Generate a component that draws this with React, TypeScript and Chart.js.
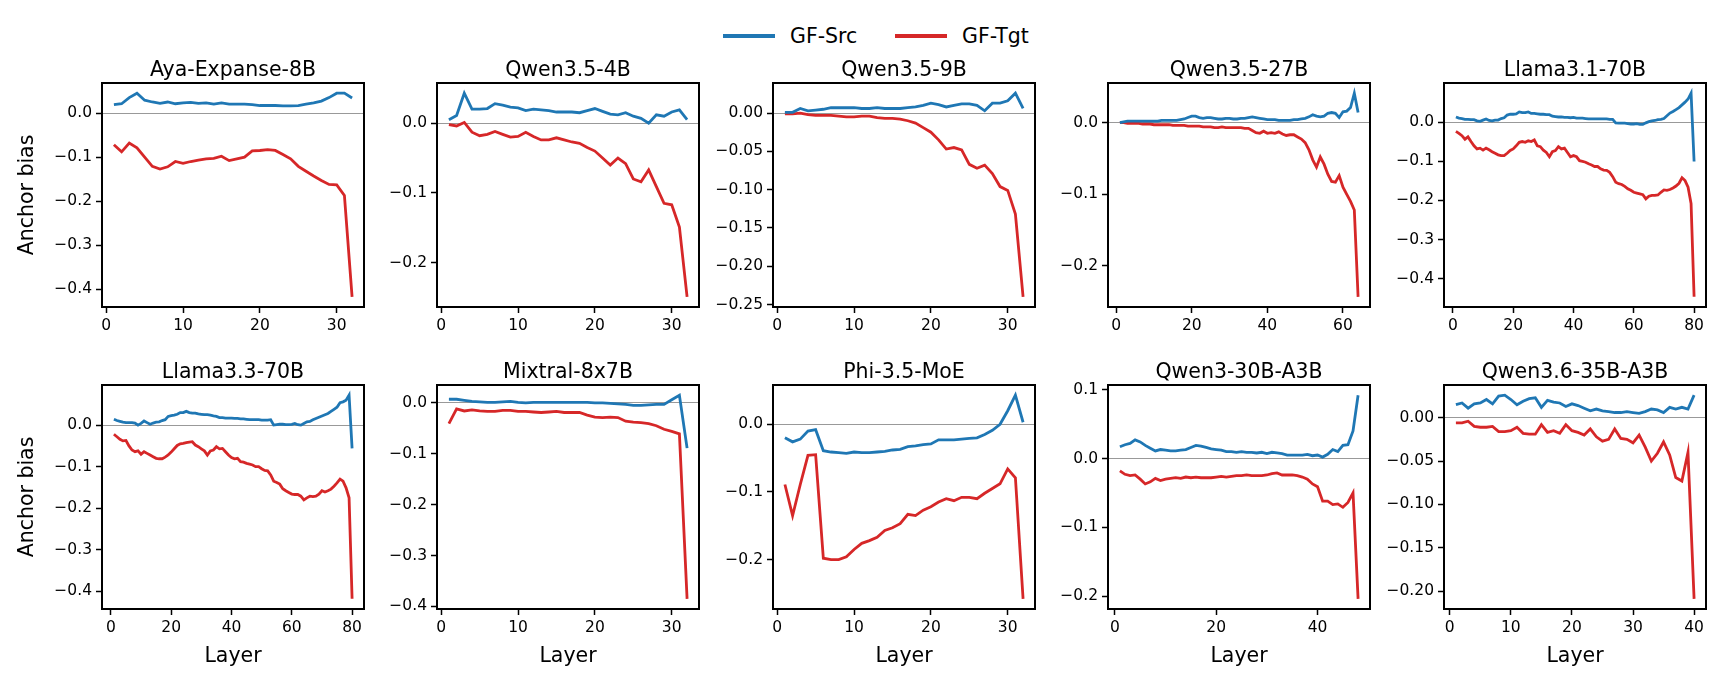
import React, { useEffect, useRef } from 'react';
import { Chart, registerables } from 'chart.js';

const FONT = '"DejaVu Sans", sans-serif';
const BLUE = '#1f77b4';
const RED = '#d62728';

// ---------- data ----------
const titles = [
  'Aya-Expanse-8B', 'Qwen3.5-4B', 'Qwen3.5-9B', 'Qwen3.5-27B', 'Llama3.1-70B',
  'Llama3.3-70B', 'Mixtral-8x7B', 'Phi-3.5-MoE', 'Qwen3-30B-A3B', 'Qwen3.6-35B-A3B',
];

const ayaSrc = [0.019,0.021,0.035,0.045,0.029,0.025,0.022,0.025,0.021,0.023,0.024,0.022,0.023,0.020,0.023,0.020,0.020,0.020,0.019,0.017,0.017,0.017,0.016,0.016,0.017,0.020,0.023,0.027,0.035,0.045,0.045,0.034];
const ayaTgt = [-0.072,-0.088,-0.068,-0.079,-0.100,-0.121,-0.127,-0.122,-0.110,-0.114,-0.110,-0.107,-0.104,-0.103,-0.098,-0.108,-0.104,-0.100,-0.086,-0.085,-0.083,-0.085,-0.094,-0.104,-0.121,-0.132,-0.143,-0.153,-0.162,-0.163,-0.187,-0.417];

const q4Src = [0.005,0.011,0.043,0.020,0.020,0.021,0.028,0.026,0.023,0.022,0.018,0.020,0.019,0.018,0.016,0.016,0.016,0.015,0.018,0.021,0.017,0.013,0.012,0.015,0.010,0.007,0.000,0.012,0.010,0.016,0.019,0.005];
const q4Tgt = [-0.002,-0.004,0.001,-0.013,-0.018,-0.016,-0.012,-0.016,-0.020,-0.019,-0.013,-0.019,-0.024,-0.024,-0.021,-0.024,-0.027,-0.029,-0.035,-0.040,-0.050,-0.060,-0.050,-0.058,-0.080,-0.084,-0.067,-0.091,-0.115,-0.117,-0.149,-0.249];

const q9Src = [0.001,0.001,0.006,0.003,0.004,0.005,0.007,0.007,0.007,0.007,0.006,0.006,0.007,0.006,0.006,0.006,0.007,0.008,0.010,0.013,0.011,0.008,0.010,0.012,0.012,0.010,0.003,0.013,0.013,0.016,0.026,0.006];
const q9Tgt = [-0.001,-0.001,0.000,-0.002,-0.003,-0.003,-0.003,-0.004,-0.005,-0.005,-0.004,-0.004,-0.006,-0.007,-0.007,-0.008,-0.010,-0.013,-0.019,-0.025,-0.035,-0.047,-0.045,-0.048,-0.067,-0.072,-0.068,-0.079,-0.096,-0.101,-0.132,-0.240];

const q27Src = [
  0.000,0.001,0.002,0.002,0.002,0.002,0.002,0.002,0.002,0.002,
  0.002,0.003,0.003,0.003,0.003,0.003,0.004,0.005,0.007,0.009,
  0.009,0.007,0.006,0.007,0.007,0.006,0.005,0.005,0.006,0.006,
  0.005,0.005,0.006,0.006,0.007,0.008,0.007,0.006,0.005,0.004,
  0.004,0.004,0.003,0.003,0.003,0.003,0.004,0.004,0.005,0.006,
  0.008,0.011,0.009,0.008,0.009,0.013,0.014,0.013,0.007,0.015,
  0.016,0.021,0.041,0.014];
const q27Tgt = [
  0.000,0.000,-0.001,-0.001,-0.001,-0.001,-0.002,-0.002,-0.002,-0.003,
  -0.003,-0.003,-0.003,-0.003,-0.004,-0.004,-0.004,-0.004,-0.005,-0.005,
  -0.005,-0.005,-0.006,-0.006,-0.006,-0.007,-0.007,-0.006,-0.007,-0.007,
  -0.007,-0.007,-0.007,-0.008,-0.008,-0.011,-0.014,-0.015,-0.012,-0.015,
  -0.014,-0.015,-0.013,-0.016,-0.018,-0.017,-0.017,-0.020,-0.023,-0.028,
  -0.038,-0.052,-0.062,-0.048,-0.058,-0.072,-0.082,-0.083,-0.074,-0.090,
  -0.100,-0.110,-0.122,-0.243];

const l31Src = [
  0.014,0.011,0.010,0.008,0.008,0.007,0.007,0.004,0.003,0.006,
  0.009,0.005,0.004,0.006,0.006,0.010,0.012,0.019,0.021,0.021,
  0.022,0.027,0.025,0.025,0.027,0.023,0.023,0.022,0.021,0.021,
  0.020,0.020,0.016,0.015,0.014,0.014,0.013,0.013,0.012,0.013,
  0.011,0.011,0.011,0.010,0.009,0.009,0.009,0.009,0.009,0.009,
  0.009,0.008,0.008,-0.001,-0.002,-0.002,-0.002,-0.003,-0.004,-0.004,
  -0.003,-0.005,-0.005,-0.001,0.002,0.004,0.005,0.007,0.008,0.010,
  0.017,0.024,0.028,0.033,0.038,0.045,0.052,0.060,0.075,-0.100];
const l31Tgt = [
  -0.023,-0.028,-0.034,-0.043,-0.037,-0.049,-0.060,-0.068,-0.066,-0.071,
  -0.066,-0.070,-0.075,-0.079,-0.083,-0.085,-0.085,-0.079,-0.072,-0.068,
  -0.060,-0.051,-0.049,-0.051,-0.047,-0.049,-0.045,-0.060,-0.062,-0.071,
  -0.077,-0.088,-0.075,-0.072,-0.062,-0.068,-0.066,-0.077,-0.088,-0.085,
  -0.088,-0.098,-0.100,-0.102,-0.106,-0.109,-0.113,-0.113,-0.119,-0.122,
  -0.123,-0.128,-0.139,-0.153,-0.157,-0.159,-0.164,-0.170,-0.174,-0.179,
  -0.181,-0.183,-0.185,-0.196,-0.189,-0.187,-0.187,-0.186,-0.179,-0.173,
  -0.174,-0.172,-0.168,-0.163,-0.156,-0.142,-0.149,-0.166,-0.208,-0.447];

const l33Src = [
  0.014,0.011,0.009,0.007,0.006,0.006,0.006,0.005,0.000,0.004,
  0.010,0.006,0.002,0.005,0.007,0.008,0.011,0.013,0.021,0.023,
  0.024,0.026,0.030,0.030,0.033,0.030,0.029,0.029,0.027,0.026,
  0.025,0.025,0.024,0.022,0.021,0.018,0.018,0.017,0.017,0.017,
  0.016,0.016,0.015,0.015,0.014,0.013,0.013,0.013,0.013,0.012,
  0.012,0.012,0.013,0.000,0.001,0.002,0.002,0.001,0.001,0.002,
  0.004,0.001,0.000,0.004,0.008,0.009,0.013,0.016,0.019,0.022,
  0.025,0.028,0.033,0.038,0.043,0.054,0.056,0.060,0.072,-0.056];
const l33Tgt = [
  -0.022,-0.028,-0.034,-0.038,-0.037,-0.050,-0.060,-0.064,-0.062,-0.070,
  -0.064,-0.068,-0.072,-0.076,-0.080,-0.081,-0.081,-0.077,-0.072,-0.065,
  -0.057,-0.049,-0.045,-0.044,-0.042,-0.041,-0.040,-0.048,-0.052,-0.057,
  -0.062,-0.072,-0.062,-0.060,-0.052,-0.057,-0.056,-0.064,-0.072,-0.078,
  -0.081,-0.080,-0.088,-0.089,-0.092,-0.094,-0.096,-0.100,-0.100,-0.105,
  -0.109,-0.110,-0.120,-0.135,-0.138,-0.142,-0.153,-0.158,-0.162,-0.166,
  -0.167,-0.167,-0.171,-0.180,-0.175,-0.171,-0.172,-0.171,-0.166,-0.158,
  -0.161,-0.158,-0.154,-0.147,-0.139,-0.130,-0.135,-0.151,-0.175,-0.418];

const mixSrc = [0.007,0.007,0.005,0.003,0.002,0.001,0.001,0.002,0.003,0.001,0.000,0.001,0.001,0.001,0.001,0.001,0.001,0.001,0.001,0.000,0.000,-0.001,-0.002,-0.003,-0.005,-0.005,-0.004,-0.003,-0.003,0.006,0.015,-0.089];
const mixTgt = [-0.041,-0.012,-0.016,-0.014,-0.016,-0.017,-0.017,-0.015,-0.015,-0.017,-0.017,-0.018,-0.019,-0.018,-0.017,-0.019,-0.019,-0.019,-0.024,-0.028,-0.029,-0.028,-0.029,-0.036,-0.038,-0.039,-0.041,-0.045,-0.052,-0.056,-0.061,-0.385];

const phiSrc = [-0.020,-0.026,-0.022,-0.010,-0.008,-0.039,-0.041,-0.042,-0.043,-0.041,-0.042,-0.042,-0.041,-0.040,-0.038,-0.037,-0.033,-0.032,-0.030,-0.029,-0.023,-0.023,-0.023,-0.022,-0.021,-0.020,-0.015,-0.009,0.000,0.020,0.043,0.003];
const phiTgt = [-0.089,-0.135,-0.089,-0.046,-0.045,-0.198,-0.200,-0.200,-0.196,-0.185,-0.176,-0.172,-0.167,-0.157,-0.153,-0.147,-0.133,-0.135,-0.127,-0.122,-0.115,-0.110,-0.113,-0.108,-0.108,-0.110,-0.102,-0.095,-0.088,-0.066,-0.079,-0.258];

const q30Src = [
  0.017,0.020,0.022,0.027,0.024,0.019,0.015,0.011,0.013,0.012,
  0.011,0.011,0.012,0.013,0.016,0.019,0.018,0.016,0.014,0.013,
  0.012,0.010,0.010,0.009,0.010,0.009,0.009,0.008,0.009,0.007,
  0.009,0.008,0.007,0.005,0.005,0.005,0.005,0.006,0.004,0.005,
  0.002,0.006,0.013,0.010,0.019,0.020,0.040,0.092];
const q30Tgt = [
  -0.018,-0.023,-0.025,-0.024,-0.030,-0.037,-0.034,-0.029,-0.032,-0.030,
  -0.029,-0.028,-0.029,-0.027,-0.028,-0.027,-0.028,-0.028,-0.028,-0.027,
  -0.026,-0.027,-0.026,-0.025,-0.025,-0.024,-0.025,-0.025,-0.025,-0.024,
  -0.022,-0.021,-0.024,-0.024,-0.024,-0.025,-0.027,-0.030,-0.037,-0.041,
  -0.062,-0.062,-0.067,-0.066,-0.071,-0.064,-0.050,-0.204];

const q36Src = [0.015,0.017,0.011,0.016,0.017,0.021,0.016,0.025,0.026,0.021,0.015,0.019,0.022,0.023,0.012,0.020,0.018,0.017,0.013,0.016,0.014,0.011,0.008,0.010,0.008,0.007,0.006,0.006,0.007,0.006,0.005,0.007,0.010,0.009,0.006,0.012,0.010,0.012,0.010,0.026];
const q36Tgt = [-0.006,-0.006,-0.004,-0.010,-0.011,-0.011,-0.010,-0.016,-0.016,-0.015,-0.011,-0.018,-0.019,-0.019,-0.008,-0.017,-0.015,-0.018,-0.008,-0.015,-0.017,-0.020,-0.013,-0.022,-0.027,-0.025,-0.013,-0.024,-0.025,-0.029,-0.020,-0.034,-0.050,-0.041,-0.028,-0.043,-0.069,-0.073,-0.040,-0.209];

const srcSeries = [ayaSrc, q4Src, q9Src, q27Src, l31Src, l33Src, mixSrc, phiSrc, q30Src, q36Src];
const tgtSeries = [ayaTgt, q4Tgt, q9Tgt, q27Tgt, l31Tgt, l33Tgt, mixTgt, phiTgt, q30Tgt, q36Tgt];

const xTickSets = [
  [0, 10, 20, 30], [0, 10, 20, 30], [0, 10, 20, 30], [0, 20, 40, 60], [0, 20, 40, 60, 80],
  [0, 20, 40, 60, 80], [0, 10, 20, 30], [0, 10, 20, 30], [0, 20, 40], [0, 10, 20, 30, 40],
];
const yTickSets = [
  [0.0, -0.1, -0.2, -0.3, -0.4],
  [0.0, -0.1, -0.2],
  [0.0, -0.05, -0.1, -0.15, -0.2, -0.25],
  [0.0, -0.1, -0.2],
  [0.0, -0.1, -0.2, -0.3, -0.4],
  [0.0, -0.1, -0.2, -0.3, -0.4],
  [0.0, -0.1, -0.2, -0.3, -0.4],
  [0.0, -0.1, -0.2],
  [0.1, 0.0, -0.1, -0.2],
  [0.0, -0.05, -0.1, -0.15, -0.2],
];
const yDecimals = [1, 1, 2, 1, 1, 1, 1, 1, 1, 2];

const seriesNames = ['GF-Src', 'GF-Tgt'];
const xAxisLabel = 'Layer';
const yAxisLabel = 'Anchor bias';

// ---------- layout ----------
const PLOT_LEFTS = [102, 437, 773, 1108, 1444];
const ROW_TOPS = [83, 385];
const PLOT_W = 262;
const PLOT_H = 224;
const TITLE_H = 36;
const RIGHT_PAD = 4;
const TITLE_SIZE = 20.5;
const TICK_SIZE = 15.5;

function fmt(v: number, d: number): string {
  const s = Math.abs(v).toFixed(d);
  return v < -1e-9 ? '\u2212' + s : s;
}

const framePlugin = {
  id: 'panelFrame',
  afterDraw(chart: any) {
    const { ctx, chartArea: a } = chart;
    if (!a) return;
    ctx.save();
    ctx.strokeStyle = '#000000';
    ctx.lineWidth = 2;
    ctx.beginPath();
    ctx.rect(a.left, a.top, a.right - a.left, a.bottom - a.top);
    ctx.stroke();
    ctx.restore();
  },
};

Chart.register(...registerables, framePlugin);

function Panel({ idx }: { idx: number }) {
  const ref = useRef<HTMLCanvasElement | null>(null);
  const row = Math.floor(idx / 5);
  const col = idx % 5;
  const yW = col === 0 ? 102 : 66;
  const xH = row === 1 ? 80 : 40;
  const w = yW + PLOT_W + RIGHT_PAD;
  const h = TITLE_H + PLOT_H + xH;

  useEffect(() => {
    const src = srcSeries[idx];
    const tgt = tgtSeries[idx];
    const n = src.length;
    const all = src.concat(tgt);
    const lo = Math.min(...all);
    const hi = Math.max(...all);
    const m = (hi - lo) * 0.05;
    const tickFont = { family: FONT, size: TICK_SIZE };
    const labelFont = { family: FONT, size: TITLE_SIZE, weight: 'normal' as const };

    const chart = new Chart(ref.current as HTMLCanvasElement, {
      type: 'line',
      data: {
        datasets: [
          {
            label: seriesNames[0],
            data: src.map((v, i) => ({ x: i + 1, y: v })),
            borderColor: BLUE,
            borderWidth: 2.8,
            pointRadius: 0,
            tension: 0,
            fill: false,
          },
          {
            label: seriesNames[1],
            data: tgt.map((v, i) => ({ x: i + 1, y: v })),
            borderColor: RED,
            borderWidth: 2.8,
            pointRadius: 0,
            tension: 0,
            fill: false,
          },
        ],
      },
      options: {
        responsive: false,
        animation: false,
        devicePixelRatio: 1,
        events: [],
        layout: { padding: { left: 0, right: RIGHT_PAD, top: 0, bottom: 0 } },
        plugins: {
          legend: { display: false },
          tooltip: { enabled: false },
          title: {
            display: true,
            fullSize: false,
            align: 'center',
            text: titles[idx],
            color: '#000',
            font: labelFont,
            padding: { top: TITLE_H - TITLE_SIZE * 1.2, bottom: 0 },
          },
        },
        scales: {
          x: {
            type: 'linear',
            min: 1 - 0.05 * (n - 1),
            max: n + 0.05 * (n - 1),
            afterBuildTicks: (s: any) => {
              s.ticks = xTickSets[idx].map((v) => ({ value: v }));
            },
            afterFit: (s: any) => {
              s.height = xH;
            },
            ticks: {
              font: tickFont,
              color: '#000',
              padding: 4,
              maxRotation: 0,
              autoSkip: false,
              callback: (v: any) => String(v),
            },
            grid: {
              drawOnChartArea: false,
              drawTicks: true,
              tickLength: 6,
              tickColor: '#000',
              tickWidth: 1.5,
            },
            border: { display: true, color: '#000', width: 2 },
            title: {
              display: row === 1,
              text: xAxisLabel,
              color: '#000',
              font: labelFont,
              padding: { top: 0, bottom: 19.7 },
            },
          },
          y: {
            type: 'linear',
            min: lo - m,
            max: hi + m,
            afterBuildTicks: (s: any) => {
              s.ticks = yTickSets[idx].map((v) => ({ value: v }));
            },
            afterFit: (s: any) => {
              s.width = yW;
            },
            ticks: {
              font: tickFont,
              color: '#000',
              padding: 4,
              autoSkip: false,
              callback: (v: any) => fmt(Number(v), yDecimals[idx]),
            },
            grid: {
              color: (c: any) =>
                c.tick && Math.abs(c.tick.value) < 1e-12 ? '#999999' : 'rgba(0,0,0,0)',
              lineWidth: 1,
              drawTicks: true,
              tickLength: 6,
              tickColor: '#000',
              tickWidth: 1.5,
            },
            border: { display: true, color: '#000', width: 2 },
            title: {
              display: col === 0,
              text: yAxisLabel,
              color: '#000',
              font: labelFont,
              padding: { top: 15, bottom: 0 },
            },
          },
        },
      } as any,
    });
    return () => chart.destroy();
  }, []);

  return (
    <canvas
      ref={ref}
      width={w}
      height={h}
      style={{
        position: 'absolute',
        left: PLOT_LEFTS[col] - yW,
        top: ROW_TOPS[row] - TITLE_H,
        width: w,
        height: h,
      }}
    />
  );
}

export default function App() {
  const legendText: React.CSSProperties = {
    position: 'absolute',
    top: 24,
    fontFamily: FONT,
    fontSize: TITLE_SIZE,
    lineHeight: '24px',
    whiteSpace: 'nowrap',
    color: '#000',
  };
  return (
    <div
      style={{
        position: 'absolute',
        left: 0,
        top: 0,
        width: 1725,
        height: 689,
        background: '#fff',
        overflow: 'hidden',
      }}
    >
      <div style={{ position: 'absolute', left: 723, top: 33.5, width: 52, height: 4.5, background: BLUE }} />
      <span style={{ ...legendText, left: 790 }}>{seriesNames[0]}</span>
      <div style={{ position: 'absolute', left: 895, top: 33.5, width: 52, height: 4.5, background: RED }} />
      <span style={{ ...legendText, left: 962 }}>{seriesNames[1]}</span>
      {titles.map((_, i) => (
        <Panel key={i} idx={i} />
      ))}
    </div>
  );
}
